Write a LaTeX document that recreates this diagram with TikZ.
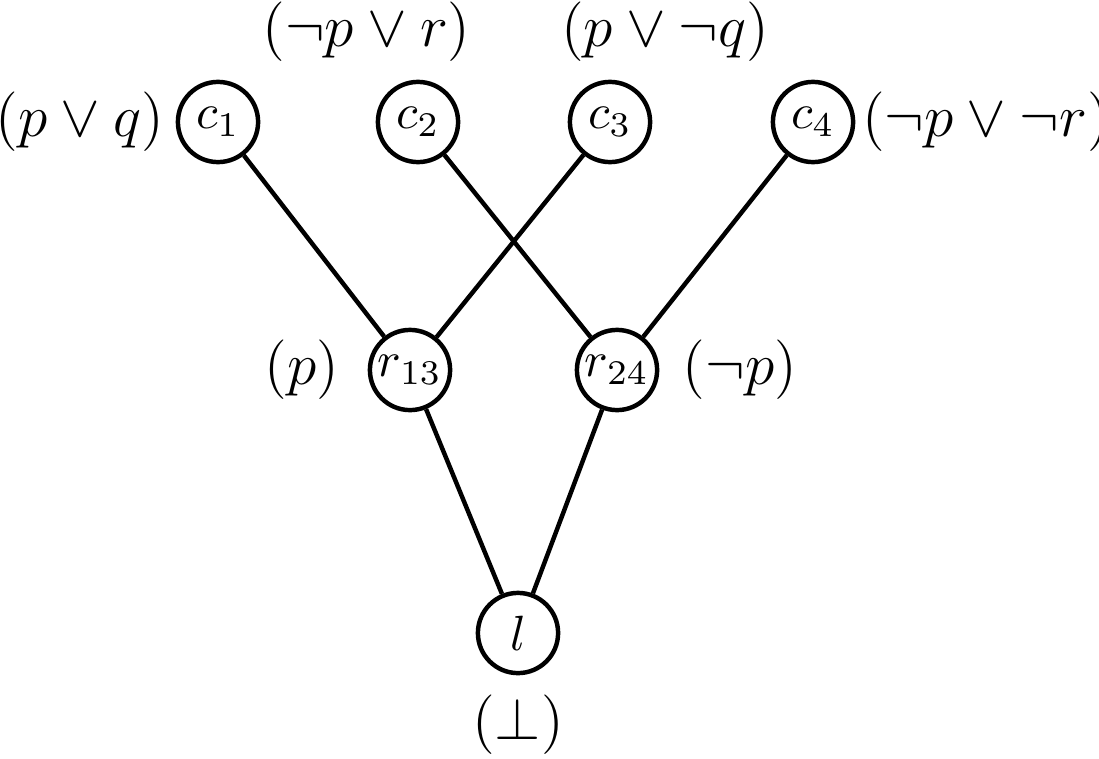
\documentclass[tikz,border=0pt]{standalone}
\usetikzlibrary{positioning}

\begin{document}
\begin{tikzpicture}[x=0.202pt,y=-0.202pt]
  \tikzset{vertex/.style={draw,circle,minimum size=16.2pt,inner sep=0pt,line width=0.9pt},
           edge/.style={line width=0.9pt},
           clause/.style={font=\large}}
  \useasboundingbox (0,0) rectangle (1099,758);

%%%%%%%%%%%%%%%%%%%%%%%%%%
  \node[vertex] (c1) at (218,122) {$c_1$};
  \node[vertex] (c2) at (418,122) {$c_2$};
  \node[vertex] (c3) at (610,122) {$c_3$};
  \node[vertex] (c4) at (813,122) {$c_4$};

  \node[vertex] (r13) at (410,370) {$r_{13}$};
  \node[vertex] (r24) at (617,370) {$r_{24}$};

  \node[vertex] (l) at (518,633) {$l$};

%%%%%%%%%%%%%%%%%%%%%%%%%%
\draw[edge] (c1) -- (r13);
\draw[edge] (c3) -- (r13);
\draw[edge] (c2) -- (r24);
\draw[edge] (c4) -- (r24);
\draw[edge] (r13) -- (l);
\draw[edge] (r24) -- (l);

%LABELS
\node[clause] (Lc1) at ([shift={(-138,0)}]c1.center) {$(p\vee q)$};
\node[clause] (Lc2) at ([shift={(-51.5,-90)}]c2.center) {$(\neg p\vee r)$};
\node[clause] (Lc3) at ([shift={(55,-90)}]c3.center) {$(p\vee \neg q)$};
\node[clause] (Lc4) at ([shift={(173,0)}]c4.center) {$(\neg p\vee \neg r)$};
\node[clause] (Lr13) at ([shift={(-108,0)}]r13.center) {$(p)$};
\node[clause] (Lr24) at ([shift={(123,0)}]r24.center) {$(\neg p)$};
\node[clause] (Ll) at ([shift={(0,92)}]l.center) {$(\bot)$};

\end{tikzpicture}
\end{document}
